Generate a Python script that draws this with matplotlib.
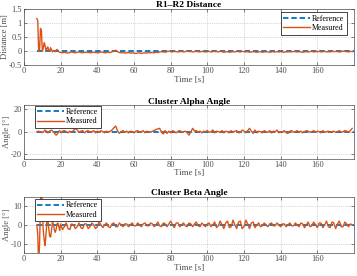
import matplotlib
matplotlib.use("Agg")
import matplotlib.pyplot as plt
import numpy as np

plt.rcParams["font.family"] = ["Liberation Serif", "DejaVu Serif"]

# time grids: 0.5 s during the transient, 1 s afterwards
t_early = [7.0, 7.5, 8.0, 8.5, 9.0, 9.5, 10.0, 10.5, 11.0, 11.5, 12.0, 12.5, 13.0,
           13.5, 14.0, 14.5, 15.0, 15.5, 16.0, 16.5, 17.0, 17.5, 18.0, 18.5, 19.0, 19.5]
t_late = list(range(20, 180))

ref_t = [7, 180]
ref_val = [0, 0]

dist_early = [1.15, 1.08, 0.00, 0.02, 0.80, 0.72, 0.00, 0.10, 0.30, 0.20, 0.02, 0.08, 0.15,
              0.02, 0.00, 0.12, 0.05, -0.03, 0.02, 0.00, -0.02, 0.03, 0.06, 0.02, -0.02, -0.04]
dist_late = [
    -0.05, -0.06, -0.04, -0.06, -0.07, -0.05, -0.03, -0.05, -0.06, -0.04,
    -0.03, -0.05, -0.06, -0.04, -0.05, -0.04, -0.06, -0.05, -0.04, -0.05,
    -0.06, -0.05, -0.03, -0.04, -0.06, -0.05, -0.04, -0.05, -0.03, 0.01,
    0.03, -0.02, -0.05, -0.06, -0.05, -0.07, -0.06, -0.05, -0.07, -0.06,
    -0.07, -0.08, -0.07, -0.06, -0.08, -0.07, -0.06, -0.07, -0.05, -0.06,
    -0.05, -0.06, -0.04, -0.05, -0.03, -0.02, -0.03, -0.04, -0.02, 0.00,
    -0.02, -0.03, -0.01, -0.02, -0.03, -0.02, -0.01, -0.03, -0.02, 0.01,
    -0.02, -0.01, -0.03, -0.02, -0.01, -0.02, -0.03, -0.01, -0.02, -0.03,
    -0.02, -0.01, -0.03, -0.02, -0.01, -0.02, -0.03, -0.01, -0.02, -0.04,
    -0.03, -0.02, -0.04, -0.03, -0.02, -0.03, -0.01, -0.02, -0.03, -0.01,
    -0.02, -0.03, -0.02, -0.04, -0.03, -0.02, -0.03, -0.04, -0.03, -0.02,
    -0.04, -0.03, -0.02, -0.03, -0.04, -0.03, -0.02, -0.03, -0.02, -0.03,
    -0.02, -0.03, -0.04, -0.02, -0.03, -0.02, -0.03, -0.01, -0.02, -0.03,
    -0.02, -0.03, -0.04, -0.03, -0.02, -0.03, -0.02, -0.01, -0.03, -0.02,
    -0.02, -0.01, -0.03, -0.02, -0.01, -0.03, -0.02, -0.03, -0.01, -0.02,
    -0.01, -0.02, -0.03, -0.02, 0.00, -0.01, -0.02, -0.03, -0.01, -0.02,
]

alpha_early = [0, 0.3, 0.5, 0.2, 0, -0.5, -0.8, -0.3, 0.5, 1.5, 0.8, -0.5, -1,
               -0.5, 0.5, 1, 1.5, 0.8, 0, -1, -2, -3, -2.5, -1, 0.5, 1]
alpha_late = [
    -1, 0.5, 1, 0, -1, 0.5, -0.5, 1, 3, 1.5,
    -0.5, 0.5, 1, -1, 0.5, 1, -0.5, 0, 1, -1,
    0.5, -0.5, 1, 0, -1, 0.5, -0.5, 0.5, 1.5, 3.5,
    5, 1, -1.5, 0, 1, -0.5, 0.5, -1, 0.5, 0,
    -1, 0.5, 1, -0.5, 0, 1, -1, 0.5, 0, -0.5,
    0.5, 1, 2, 2.5, 3, -0.5, -2, 1, -1.5, 0.5,
    -1, 1, 0, -1, 0.5, 1, -0.5, 0, 0.5, -1,
    -3, 0, 3, 0.5, 1, -0.5, 0.5, -1, 0.5, 0,
    1, -0.5, 0, 1.5, -1, 0.5, 0, -0.5, 1, -1,
    0.5, 0, -1, 1, -0.5, 0.5, 1, -1, -0.5, 1.5,
    0.5, -1, 1, 3, 0.5, -1.5, 1.5, -1, 0.5, 0,
    -1, 1, 0, -0.5, 1, -1, 0.5, 0, 1.5, -1,
    0, -0.5, 1, -1, -1.5, 0.5, 1, -0.5, 0, 1,
    -0.5, 0.5, -1, 0, 1, 0.5, -0.5, 0, 1, -0.5,
    0.5, 0, -1, 1, -0.5, 0, 0.5, -0.5, 0, 0.5,
    -0.5, 0, 1, -0.5, 0, 1, 0.5, -0.5, 1, 3,
]

beta_early = [0, -5, -22, -10, 12, 22, 8, -3, -8, -11, -5, 2, 3,
              -2, -6, -6.5, -3, 1.5, 0.5, -2.5, -4, -2.5, 0.5, 1, -1, -3]
beta_late = [
    0.5, -2.5, -1, 1, -2, -2.5, 0.5, 0, -2, -1,
    1, -1.5, -2, 0.5, 0.5, -2, -1, 1, 0, -2,
    -1, 1.5, 0, -1.5, 0, 1, -1, -1.5, 0.5, 1,
    -1, -1, 1, 0, -1, 0.5, 0.5, -1, 0, 1,
    -0.5, -0.5, 1, 0, -1, 0.5, 1, -0.5, -0.5, 1,
    0.5, -1, 0, 1.5, -0.5, -1, 1, 0.5, -1, 0.5,
    2, 0, -1.5, 1, 1, -1, 0, 1, -0.5, -1,
    1, 0.5, -1, 0.5, 1.5, -0.5, -1, 1, 0, -1,
    0.5, 1, -1, 0, 1.5, -1.5, -0.5, 2, 0, -2,
    1, 2, -1.5, -1, 2.5, 0, -2, 1.5, 2, -2,
    -1, 2.5, 0.5, -2, 1, 1.5, -1.5, 0, 1, -1,
    -0.5, 1, 0, -1, 0.5, 1, -0.5, -0.5, 1, 0,
    -1, 0.5, 0.5, -1, 0, 1, -0.5, -0.5, 1, 0,
    -1, 1, 0.5, -1.5, 0, 1.5, -1, -0.5, 1.5, 0,
    -1.5, 1, 1, -1.5, 0, 2, -1, -1.5, 1.5, 1,
    -2, 0.5, 2, -1, -1, 1.5, 0.5, -1, 0.5, 0,
]

panels = [
    ("R1\u2013R2 Distance", "Distance [m]", dist_early + dist_late, (-0.5, 1.5),
     [-0.5, 0, 0.5, 1, 1.5], ["-0.5", "0", "0.5", "1", "1.5"]),
    ("Cluster Alpha Angle", "Angle [\u00b0]", alpha_early + alpha_late, (-24, 23.5),
     [-20, 0, 20], ["-20", "0", "20"]),
    ("Cluster Beta Angle", "Angle [\u00b0]", beta_early + beta_late, (-15, 15),
     [-10, 0, 10], ["-10", "0", "10"]),
]

BLUE = "#0072BD"
ORANGE = "#D95319"
GREY = "#4d4d4d"

W, H = 357, 276
fig = plt.figure(figsize=(W / 100, H / 100), dpi=100)

# axes boxes in pixels: (left, top, right, bottom)
boxes = [(24, 8.5, 354, 65.3), (24, 105.3, 354, 158.7), (24, 196.7, 354, 253)]
legend_anchor = [("upper right", (0.978, 0.93)), ("upper left", (0.032, 0.99)),
                 ("upper left", (0.032, 0.96))]

t_meas = t_early + t_late
for (title, ylab, vals, ylim, yt, ytl), (l, t, r, b), (loc, anc) in zip(panels, boxes, legend_anchor):
    ax = fig.add_axes([l / W, 1 - b / H, (r - l) / W, (b - t) / H])
    ax.plot(ref_t, ref_val, ls="--", color=BLUE, lw=1.3, dashes=(3, 1.6), label="Reference")
    ax.plot(t_meas, vals, color=ORANGE, lw=1.0, label="Measured")
    ax.set_xlim(0, 180)
    ax.set_ylim(*ylim)
    ax.set_xticks([0, 20, 40, 60, 80, 100, 120, 140, 160])
    ax.set_yticks(yt)
    ax.set_yticklabels(ytl)
    ax.grid(True, ls=":", lw=0.5, color="#b0b0b0")
    ax.tick_params(direction="in", length=2, width=0.5, labelsize=6, colors=GREY,
                   top=True, right=True, pad=1.5)
    for s in ax.spines.values():
        s.set_color(GREY)
        s.set_linewidth(0.5)
    ax.set_title(title, fontsize=6.8, fontweight="bold", pad=1)
    ax.set_xlabel("Time [s]", fontsize=6.5, color=GREY, labelpad=0.5)
    ax.set_ylabel(ylab, fontsize=6.2, color=GREY, labelpad=0)
    leg = ax.legend(loc=loc, bbox_to_anchor=anc, fontsize=5.8, handlelength=3.4,
                    handletextpad=0.2, borderpad=0.3, labelspacing=0.15, fancybox=False,
                    framealpha=1, borderaxespad=0)
    leg.get_frame().set_edgecolor("#262626")
    leg.get_frame().set_linewidth(0.6)

fig.savefig("out.png", dpi=100)
